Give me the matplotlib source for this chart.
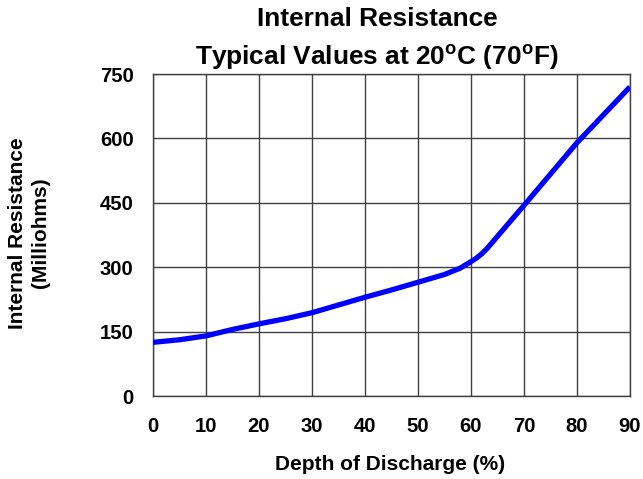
import matplotlib
matplotlib.use("Agg")
import matplotlib.pyplot as plt
import numpy as np

plt.rcParams['font.family'] = ['Liberation Sans', 'DejaVu Sans']
plt.rcParams['font.weight'] = 'bold'
plt.rcParams['mathtext.fontset'] = 'custom'
plt.rcParams['mathtext.rm'] = 'Liberation Sans:bold'
plt.rcParams['mathtext.bf'] = 'Liberation Sans:bold'

depth = [0, 5, 10, 15, 20, 25, 30, 35, 40, 45, 50, 55, 58, 60, 61, 62, 63, 65, 70, 75, 80, 85, 90]
resistance = [125, 131, 140, 155, 168, 180, 194, 212, 230, 247, 265, 283, 298, 313, 321, 331, 343, 372, 444, 517, 590, 655, 720]
x_ticks = [0, 10, 20, 30, 40, 50, 60, 70, 80, 90]
y_ticks = [0, 150, 300, 450, 600, 750]

fig = plt.figure(figsize=(6.43, 4.79), dpi=100)
ax = fig.add_axes([153/643, 1 - 396/479, (630-153)/643, (396-74)/479])

ax.plot(depth, resistance, color='#0000ff', lw=3.8, solid_capstyle='butt',
        solid_joinstyle='round', zorder=3)
ax.set_xlim(0, 90)
ax.set_ylim(0, 750)
ax.set_xticks(x_ticks)
ax.set_yticks(y_ticks)
ax.grid(True, color='#404040', lw=1.0)
for s in ax.spines.values():
    s.set_color('#404040')
    s.set_linewidth(1.0)
ax.tick_params(length=0, labelsize=14.6)
ax.tick_params(axis='y', pad=14)
ax.tick_params(axis='x', pad=15)
for lab in ax.get_xticklabels() + ax.get_yticklabels():
    lab.set_fontweight('bold')

fig.text(390/643, 1 - 465/479, 'Depth of Discharge (%)', ha='center', va='center',
         fontsize=15, fontweight='bold')
fig.text(29/643, 1 - 233/479, 'Internal Resistance\n(Milliohms)', rotation=90,
         ha='center', va='center', fontsize=15, fontweight='bold', linespacing=1.25)

fig.text(377/643, 1 - 19/479, 'Internal Resistance', ha='center', va='center',
         fontsize=18.9, fontweight='bold')
fig.text(377/643, 1 - 57/479, r'Typical Values at 20$^{\mathrm{o}}$C (70$^{\mathrm{o}}$F)',
         ha='center', va='center', fontsize=18.9, fontweight='bold')

fig.savefig('out.png', dpi=100)
